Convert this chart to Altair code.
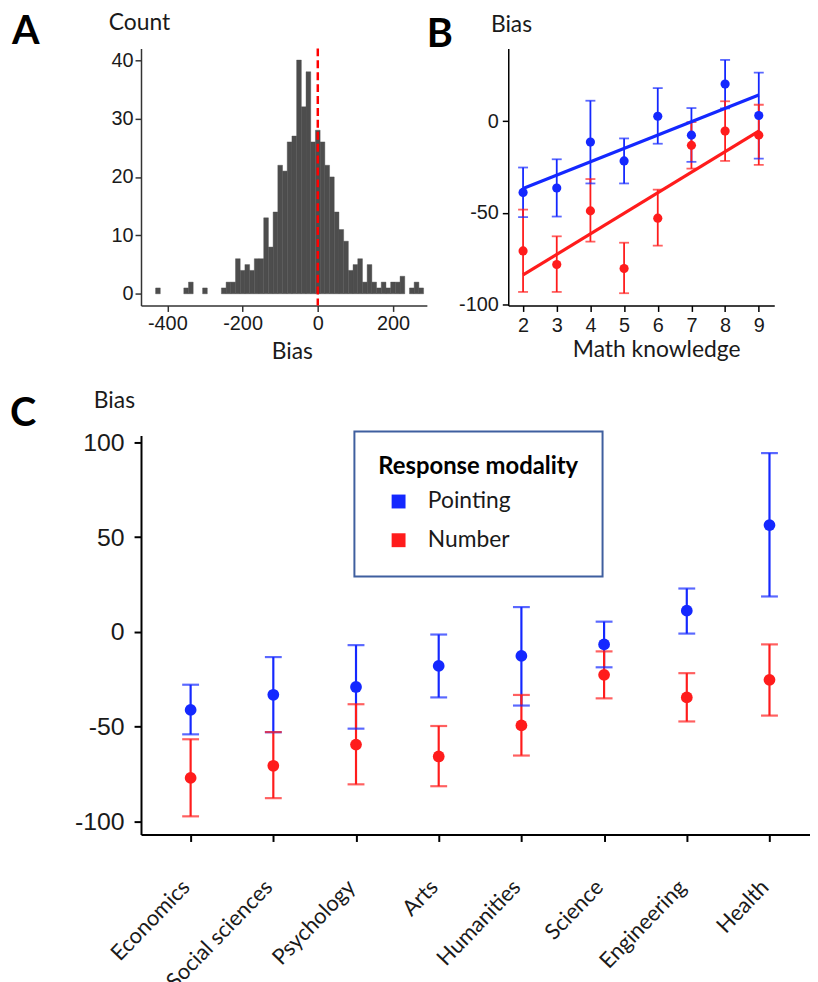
import json
import altair as alt
import pandas as pd

# ---------------- Panel A: histogram of bias ----------------
hist_centers = [-425, -412.5, -400, -387.5, -375, -362.5, -350, -337.5, -325, -312.5,
                -300, -287.5, -275, -262.5, -250, -237.5, -225, -212.5, -200, -187.5,
                -175, -162.5, -150, -137.5, -125, -112.5, -100, -87.5, -75, -62.5,
                -50, -37.5, -25, -12.5, 0, 12.5, 25, 37.5, 50, 62.5,
                75, 87.5, 100, 112.5, 125, 137.5, 150, 162.5, 175, 187.5,
                200, 212.5, 225, 237.5, 250, 262.5, 275]
hist_counts = [1, 0, 0, 0, 0, 0, 1, 2, 0, 0,
               1, 0, 0, 0, 1, 2, 2, 6, 4, 5,
               4, 6, 6, 13, 8, 14, 22, 21, 26, 27,
               40, 32, 38, 26, 28, 26, 22, 20, 14, 11,
               9, 4, 5, 6, 2, 5, 2, 1, 2, 1,
               2, 2, 3, 0, 1, 2, 1]
bin_width = 12.5
zero_bias = [0]

# ---------------- Panel B: bias by math knowledge ----------------
knowledge = [2, 3, 4, 5, 6, 7, 8, 9]
b_point_mean = [-38.9, -36.5, -11.4, -21.7, 2.7, -7.6, 20.3, 3.1]
b_point_lo = [-52.4, -52.1, -34.0, -34.0, -12.3, -22.2, 7.0, -20.4]
b_point_hi = [-25.3, -20.8, 11.2, -9.4, 18.1, 7.2, 33.5, 26.6]
b_num_mean = [-70.9, -78.3, -49.0, -80.5, -53.0, -13.2, -5.4, -7.6]
b_num_lo = [-93.3, -93.3, -65.8, -94.0, -68.0, -25.9, -21.7, -23.9]
b_num_hi = [-48.3, -62.9, -31.6, -66.4, -37.4, -0.5, 10.9, 9.0]

# ---------------- Panel C: bias by field of study ----------------
fields = ["Economics", "Social sciences", "Psychology", "Arts",
          "Humanities", "Science", "Engineering", "Health"]
c_point_mean = [-41.2, -33.2, -29.1, -18.0, -12.7, -6.6, 11.2, 56.4]
c_point_lo = [-54.1, -53.0, -51.1, -34.6, -38.9, -18.7, -0.9, 18.7]
c_point_hi = [-27.9, -13.3, -7.0, -1.4, 13.1, 5.4, 22.9, 94.4]
c_num_mean = [-77.1, -70.7, -59.5, -65.8, -49.4, -22.7, -34.6, -25.3]
c_num_lo = [-97.4, -87.8, -80.5, -81.5, -65.3, -35.1, -47.3, -44.2]
c_num_hi = [-56.7, -52.9, -38.2, -49.7, -33.3, -10.3, -21.8, -6.6]

modalities = ["Pointing", "Number"]
colors = ["#1428ff", "#ff1c1c"]
panel_letters = ["A", "B", "C"]

# ---------------- tables ----------------
dfA = pd.DataFrame({"bias": hist_centers, "n": hist_counts})
dfA = dfA[dfA["n"] > 0].copy()
dfA["lo"] = dfA["bias"] - bin_width / 2
dfA["hi"] = dfA["bias"] + bin_width / 2
dfZero = pd.DataFrame({"bias": zero_bias})

dfB = pd.concat([
    pd.DataFrame({"knowledge": knowledge, "modality": "Pointing",
                  "mean": b_point_mean, "lo": b_point_lo, "hi": b_point_hi}),
    pd.DataFrame({"knowledge": knowledge, "modality": "Number",
                  "mean": b_num_mean, "lo": b_num_lo, "hi": b_num_hi}),
], ignore_index=True)

dfC = pd.concat([
    pd.DataFrame({"field": fields, "idx": list(range(len(fields))), "modality": "Pointing",
                  "mean": c_point_mean, "lo": c_point_lo, "hi": c_point_hi}),
    pd.DataFrame({"field": fields, "idx": list(range(len(fields))), "modality": "Number",
                  "mean": c_num_mean, "lo": c_num_lo, "hi": c_num_hi}),
], ignore_index=True)

TITLE_FONT = "Lato"
TICK_FONT = "Liberation Sans"
INK = "#1a1a1a"
plain_label = "'' + datum.value"


def panel_letter(letter, dx, dy):
    return alt.Chart(pd.DataFrame({"label": [letter]})).mark_text(
        align="left", baseline="alphabetic", fontSize=40, font=TITLE_FONT,
        fontWeight="bold", color="black").encode(
        text="label:N", x=alt.value(dx), y=alt.value(dy))


# ---------------- Panel A ----------------
def xA(field):
    return alt.X(field, scale=alt.Scale(domain=[-470, 290], nice=False, zero=False),
                 axis=alt.Axis(values=[-400, -200, 0, 200], labelExpr=plain_label,
                               title="Bias", titleX=152, titleY=53, titleAlign="center",
                               titleBaseline="alphabetic", titleFontSize=23,
                               labelFontSize=20, labelPadding=2, tickSize=6,
                               domainColor="#333333", tickColor="#333333"))


yA = alt.Y("n:Q", scale=alt.Scale(domain=[-2, 42], nice=False),
           axis=alt.Axis(values=[0, 10, 20, 30, 40], title="Count", titleAngle=0,
                         titleX=-33, titleY=-19, titleAlign="left",
                         titleBaseline="alphabetic", titleFontSize=23,
                         labelFontSize=20, labelPadding=2, tickSize=6,
                         domainColor="#333333", tickColor="#333333"))

barsA = alt.Chart(dfA).mark_bar(color="#4d4d4d", stroke="#4d4d4d", strokeWidth=0.4).encode(
    x=xA("lo:Q"), x2="hi:Q", y=yA, y2=alt.datum(0))
ruleA = alt.Chart(dfZero).mark_rule(color="#ff0000", strokeDash=[8, 4], strokeWidth=2.5).encode(
    x=xA("bias:Q"))

panelA = alt.layer(barsA, ruleA, panel_letter(panel_letters[0], -130, -4)).properties(
    width=288, height=259)

# ---------------- Panel B ----------------
xB = alt.X("knowledge:Q", scale=alt.Scale(domain=[1.56, 9.46], nice=False, zero=False),
           axis=alt.Axis(values=knowledge, title="Math knowledge", titleX=149, titleY=51,
                         titleAlign="center", titleBaseline="alphabetic", titleFontSize=23,
                         labelFontSize=20, labelPadding=4, tickSize=6))


def yB(field):
    return alt.Y(field, scale=alt.Scale(domain=[-100.7, 39.8], nice=False),
                 axis=alt.Axis(values=[-100, -50, 0], labelExpr=plain_label, title="Bias",
                               titleAngle=0, titleX=-18, titleY=-17, titleAlign="left",
                               titleBaseline="alphabetic", titleFontSize=23,
                               labelFontSize=20, labelPadding=4, tickSize=6))


def col_scale():
    return alt.Scale(domain=modalities, range=colors)


colB = alt.Color("modality:N", scale=col_scale(), legend=None)
baseB = alt.Chart(dfB)
errB = baseB.mark_rule(strokeWidth=1.8).encode(x=xB, y=yB("lo:Q"), y2="hi:Q", color=colB)
capLoB = baseB.mark_tick(orient="horizontal", size=10, thickness=1.8).encode(
    x=xB, y=yB("lo:Q"), color=colB)
capHiB = baseB.mark_tick(orient="horizontal", size=10, thickness=1.8).encode(
    x=xB, y=yB("hi:Q"), color=colB)
regB = baseB.transform_regression("knowledge", "mean", groupby=["modality"]).mark_line(
    strokeWidth=3.2).encode(x=xB, y=yB("mean:Q"), color=colB)
ptsB = baseB.mark_circle(size=85, opacity=1).encode(x=xB, y=yB("mean:Q"), color=colB)

panelB = alt.layer(errB, capLoB, capHiB, regB, ptsB,
                   panel_letter(panel_letters[1], -82, -1)).properties(width=268, height=259)

# ---------------- Panel C ----------------
field_expr = json.dumps(fields) + "[datum.value]"
xC = alt.X("idx:Q", scale=alt.Scale(domain=[-0.6, 7.49], nice=False, zero=False),
           axis=alt.Axis(values=list(range(len(fields))), labelExpr=field_expr, title=None,
                         labelAngle=-46, labelAlign="right", labelBaseline="middle",
                         labelFont=TITLE_FONT, labelFontSize=22, labelPadding=42,
                         labelOffset=-5,
                         labelOverlap=False, labelFlush=False, labelBound=False,
                         tickSize=7, domainWidth=2, tickWidth=2))


def yC(field):
    return alt.Y(field, scale=alt.Scale(domain=[-107, 103.7], nice=False),
                 axis=alt.Axis(values=[-100, -50, 0, 50, 100], labelExpr=plain_label,
                               title="Bias", titleAngle=0, titleX=-48, titleY=-28,
                               titleAlign="left", titleBaseline="alphabetic",
                               titleFontSize=23, labelFontSize=25, labelPadding=10,
                               tickSize=7, domainWidth=2, tickWidth=2))


legendC = alt.Legend(orient="none", legendX=215, legendY=-4, title="Response modality",
                     titleFont=TITLE_FONT, titleFontSize=24, titleFontWeight="bold",
                     titleColor="black", titlePadding=11, titleLimit=400,
                     labelFont=TITLE_FONT, labelFontSize=23, labelColor=INK, labelLimit=300,
                     symbolType="square", symbolSize=196, symbolStrokeWidth=0,
                     symbolOpacity=1, symbolOffset=9, labelOffset=18, rowPadding=15,
                     padding=24, strokeColor="#3f5f9f", fillColor="white",
                     cornerRadius=0)
colC = alt.Color("modality:N", scale=col_scale(), legend=legendC)

baseC = alt.Chart(dfC)
ptsC = baseC.mark_circle(size=140, opacity=1).encode(x=xC, y=yC("mean:Q"), color=colC)
errC = baseC.mark_rule(strokeWidth=2.2).encode(x=xC, y=yC("lo:Q"), y2="hi:Q", color=colC)
capLoC = baseC.mark_tick(orient="horizontal", size=17, thickness=2.2).encode(
    x=xC, y=yC("lo:Q"), color=colC)
capHiC = baseC.mark_tick(orient="horizontal", size=17, thickness=2.2).encode(
    x=xC, y=yC("hi:Q"), color=colC)

panelC = alt.layer(ptsC, errC, capLoC, capHiC,
                   panel_letter(panel_letters[2], -132, -10)).properties(width=674, height=402)

chart = alt.vconcat(
    alt.hconcat(panelA, panelB, spacing=0),
    panelC,
    spacing=27,
).resolve_scale(
    color="independent"
).resolve_legend(
    color="independent"
).properties(
    padding={"left": 2, "top": 0, "right": 0, "bottom": 0}
).configure_view(
    stroke=None
).configure_axis(
    grid=False, domainColor="black", domainWidth=1.5, tickColor="black", tickWidth=1.5,
    labelFont=TICK_FONT, labelColor=INK, titleFont=TITLE_FONT, titleFontWeight="normal",
    titleColor=INK
).configure_legend(
    strokeWidth=2
)

chart.save("out.html", embed_options={"renderer": "svg", "actions": False})
